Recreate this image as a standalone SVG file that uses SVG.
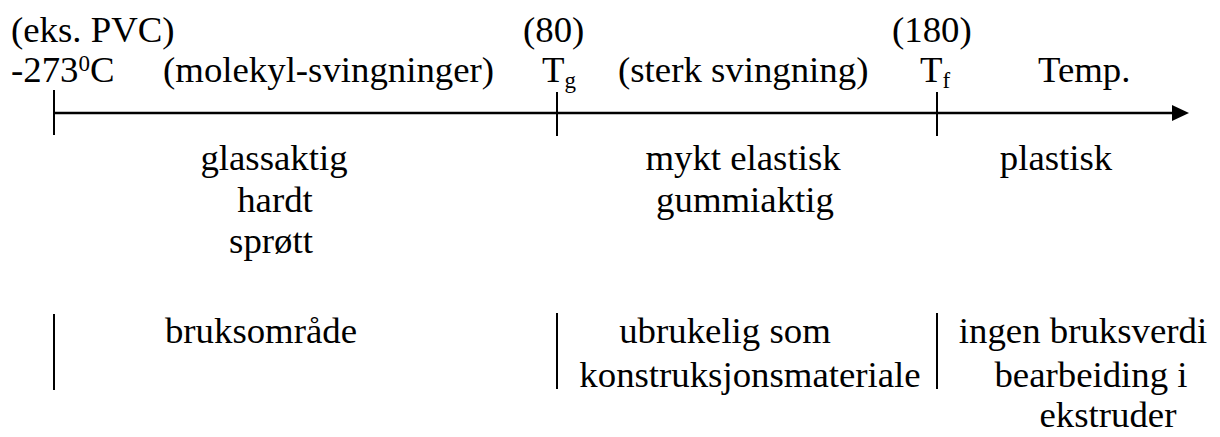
<svg xmlns="http://www.w3.org/2000/svg" width="1220" height="437" viewBox="0 0 1220 437">
<style>
text{font-family:"Liberation Serif","Times New Roman",serif;font-size:36.8px;fill:#000}
.s{font-size:23px}
.ax{stroke:#000;stroke-width:2.5;fill:none}
.tk{stroke:#000;stroke-width:2;fill:none}
</style>
<rect width="1220" height="437" fill="#fff"/>
<g id="connectors">
<line class="ax" x1="54" y1="113" x2="1175" y2="113"/>
<polygon points="1189,113 1172,105 1172,121" fill="#000"/>
<line class="tk" x1="54" y1="90" x2="54" y2="135"/>
<line class="tk" x1="557" y1="92" x2="557" y2="136"/>
<line class="tk" x1="937" y1="92" x2="937" y2="136"/>
<line class="tk" x1="54" y1="314" x2="54" y2="390"/>
<line class="tk" x1="557" y1="313" x2="557" y2="389"/>
<line class="tk" x1="937" y1="313" x2="937" y2="389"/>
</g>
<g id="start">
<text x="11" y="42">(eks. PVC)</text>
<text x="11" y="82">-273<tspan class="s" dy="-11">0</tspan><tspan dy="11">C</tspan></text>
</g>
<g id="mol">
<text x="163" y="82">(molekyl-svingninger)</text>
</g>
<g id="tg">
<text x="523" y="42">(80)</text>
<text x="542" y="82">T<tspan class="s" dy="6">g</tspan></text>
</g>
<g id="sterk">
<text x="618" y="82">(sterk svingning)</text>
</g>
<g id="tf">
<text x="892" y="42">(180)</text>
<text x="920" y="82">T<tspan class="s" dy="6">f</tspan></text>
</g>
<g id="temp">
<text x="1038" y="82">Temp.</text>
</g>
<g id="glass">
<text x="274" y="170" text-anchor="middle">glassaktig</text>
<text x="275" y="212" text-anchor="middle">hardt</text>
<text x="271" y="253" text-anchor="middle">sprøtt</text>
</g>
<g id="elastisk">
<text x="743" y="170" text-anchor="middle">mykt elastisk</text>
<text x="745" y="212" text-anchor="middle">gummiaktig</text>
</g>
<g id="plastisk">
<text x="1056" y="170" text-anchor="middle">plastisk</text>
</g>
<g id="bruk">
<text x="261" y="343" text-anchor="middle">bruksområde</text>
</g>
<g id="ubrukelig">
<text x="725" y="343" text-anchor="middle">ubrukelig som</text>
<text x="750" y="387" text-anchor="middle">konstruksjonsmateriale</text>
</g>
<g id="ingen">
<text x="1083" y="343" text-anchor="middle">ingen bruksverdi</text>
<text x="1091" y="387" text-anchor="middle">bearbeiding i</text>
<text x="1108" y="427" text-anchor="middle">ekstruder</text>
</g>
</svg>
